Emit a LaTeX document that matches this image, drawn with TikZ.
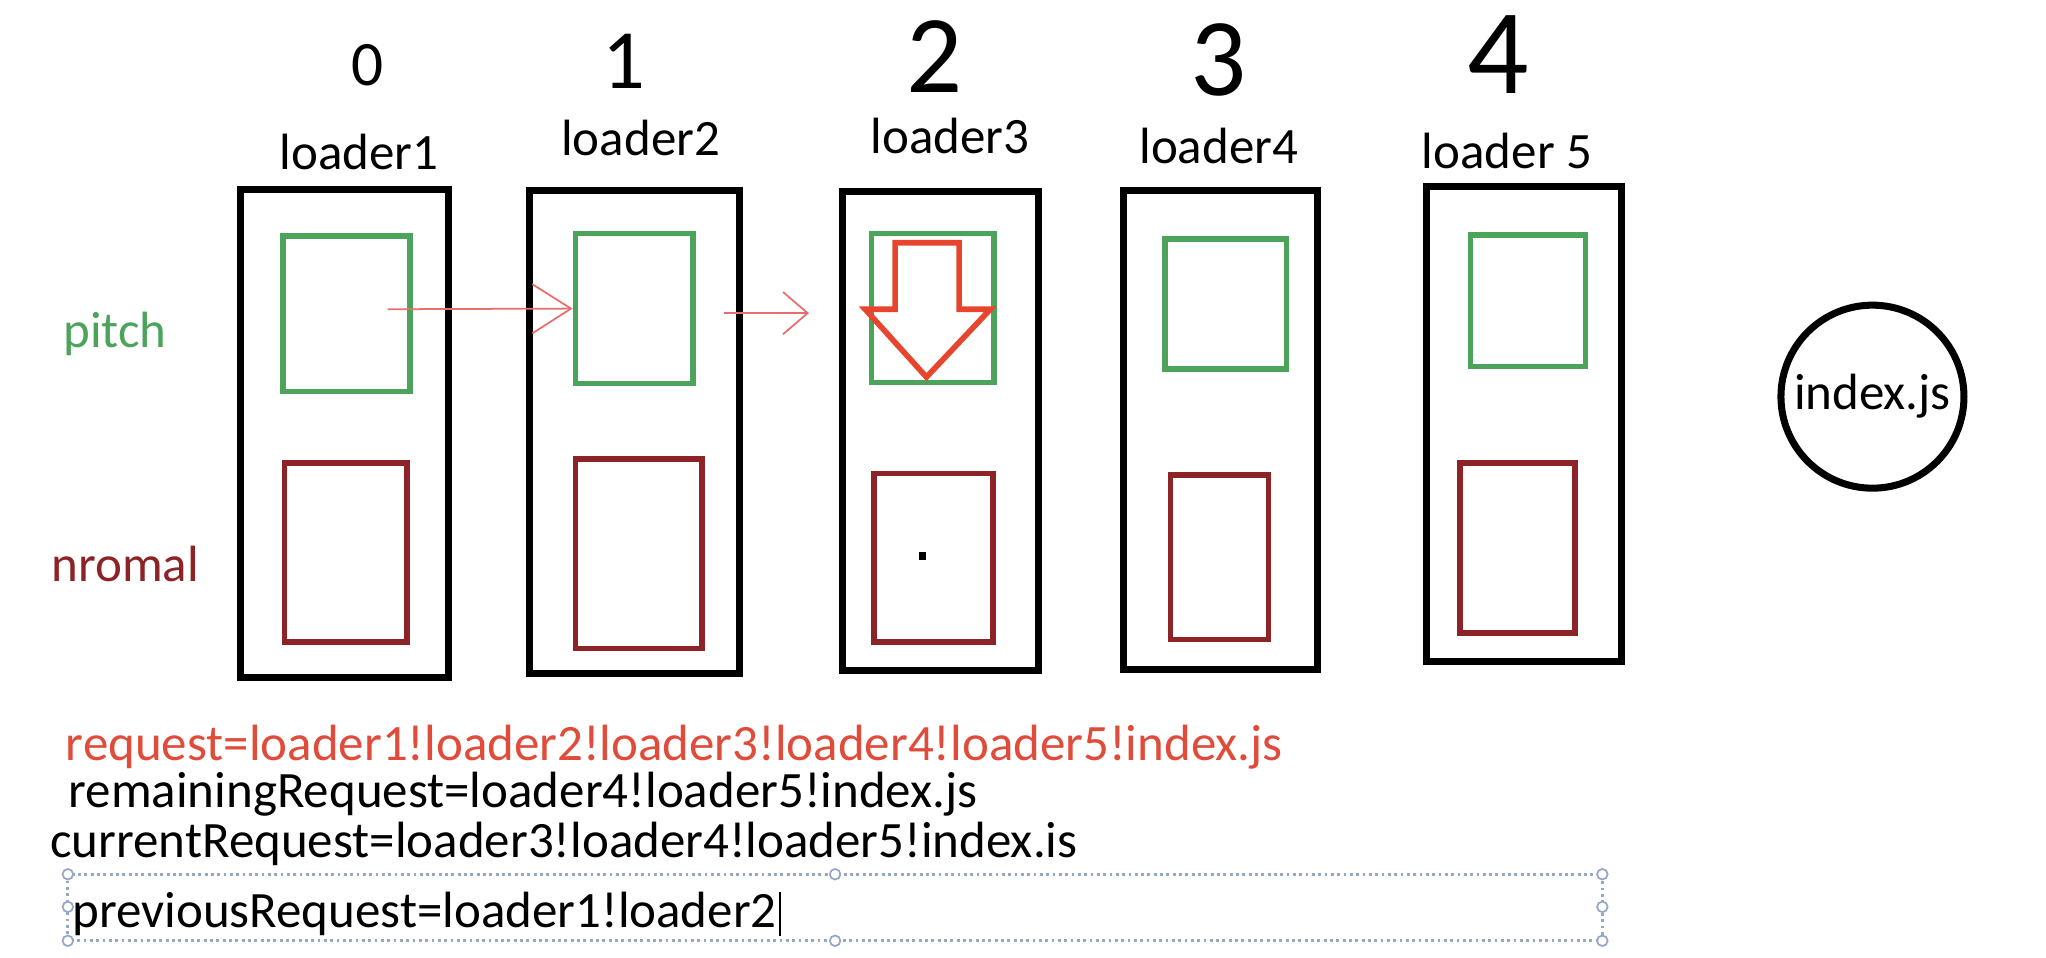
\documentclass[tikz,border=0pt]{standalone}
\usepackage{fontspec}
\setmainfont{Carlito}
\usetikzlibrary{fit,positioning,arrows.meta}
\definecolor{pitchgreen}{RGB}{76,163,90}
\definecolor{normalred}{RGB}{140,35,38}
\definecolor{reqred}{RGB}{224,75,58}
\definecolor{arrowred}{RGB}{232,69,47}
\definecolor{thinred}{RGB}{232,110,110}
\definecolor{selblue}{RGB}{150,168,196}

\tikzset{
  loaderbox/.style={draw=black, line width=2pt, inner sep=0pt},
  pitchbox/.style={draw=pitchgreen, line width=1.6pt, inner sep=0pt},
  normalbox/.style={draw=normalred, line width=1.6pt, inner sep=0pt},
  lbl/.style={font=\fontsize{14.5}{17}\selectfont, inner sep=0pt},
  digit/.style={font=\fontsize{30}{32}\selectfont, inner sep=0pt},
  handle/.style={circle, draw=selblue, fill=white, line width=0.5pt, inner sep=0pt, minimum size=3pt}
}

\begin{document}
\begin{tikzpicture}[x=0.013048cm, y=-0.013048cm]
	\useasboundingbox (0,0) rectangle (1568,734);
	
	% loader index numbers
	\foreach \d/\x/\y/\s in {0/282/50/0.6, 1/478/47/0.8, 2/716/43/1.05, 3/934/46/1.05, 4/1148/42/1.15}
		\node[digit, scale=\s] (num\d) at (\x,\y) {\d};
	
	% loader columns
	\foreach \n/\xa/\ya/\xb/\yb in {1/184/145/344/519, 2/406/146/567/516, 3/646/147/796/514, 4/861/146/1010/513, 5/1093/143/1243/507}
		\node[loaderbox, fit={(\xa,\ya) (\xb,\yb)}] (L\n) {};
	\foreach \n/\xa/\ya/\xb/\yb in {1/217/181/314/300, 2/441/179/531/294, 3/668/179/762/293, 4/893/183/986/283, 5/1127/180/1215/281}
		\node[pitchbox, fit={(\xa,\ya) (\xb,\yb)}] (P\n) {};
	\foreach \n/\xa/\ya/\xb/\yb in {1/218/355/312/492, 2/441/352/538/497, 3/670/363/761/492, 4/897/364/972/490, 5/1119/355/1207/485}
		\node[normalbox, fit={(\xa,\ya) (\xb,\yb)}] (N\n) {};
	\foreach \n/\x/\y/\t in {1/275/130/loader1, 2/491/119/loader2, 3/728/118/loader3, 4/934/125/loader4, 5/1155/129/loader 5}
		\node[lbl, anchor=base] (name\n) at (\x,\y) {\t};
	
	% row labels
	\node[lbl, anchor=base west, text=pitchgreen] (pitch) at (48,266) {pitch};
	\node[lbl, anchor=base west, text=normalred] (nromal) at (39,446) {nromal};
	
	% the module
	\node[circle, draw, line width=2pt, minimum size=1.83cm, inner sep=0pt, font=\fontsize{14.5}{17}\selectfont] (index) at (1435,304) {index.js};
	
	% pitch calls
	\coordinate (a1s) at (297,237);
	\draw[thinred, line width=0.5pt, -{Straight Barb[length=11pt, width=14pt]}] (a1s) -- (P2.west);
	\coordinate (a2s) at (555,240);
	\coordinate (a2e) at (620,240);
	\draw[thinred, line width=0.5pt, -{Straight Barb[length=7pt, width=12pt]}] (a2s) -- (a2e);
	
	% pitch of loader3 returns
	\draw[arrowred, line width=1.6pt, line join=miter] (686,186) -- (735,186) -- (735,237) -- (759,237) -- (710,289) -- (663,237) -- (686,237) -- cycle;
	\fill (704,423) rectangle (710,429);
	
	% request strings
	\node[lbl, anchor=base west, text=reqred] (req) at (50,583) {request=loader1!loader2!loader3!loader4!loader5!index.js};
	\node[lbl, anchor=base west] (remain) at (52,619) {remainingRequest=loader4!loader5!index.js};
	\node[lbl, anchor=base west] (current) at (38,657) {currentRequest=loader3!loader4!loader5!index.is};
	\node[lbl, anchor=base west] (previous) at (55,711) {previousRequest=loader1!loader2};
	
	% selected text box
	\draw[selblue, densely dotted, line width=0.8pt] (52,670) rectangle (1228,721);
	\foreach \x/\y in {52/670, 640/670, 1228/670, 52/695, 1228/695, 52/721, 640/721, 1228/721}
		\node[handle] at (\x,\y) {};
	\draw[line width=0.4pt] (previous.east) ++(2,-17) -- ++(0,34);
	
\end{tikzpicture}
\end{document}
